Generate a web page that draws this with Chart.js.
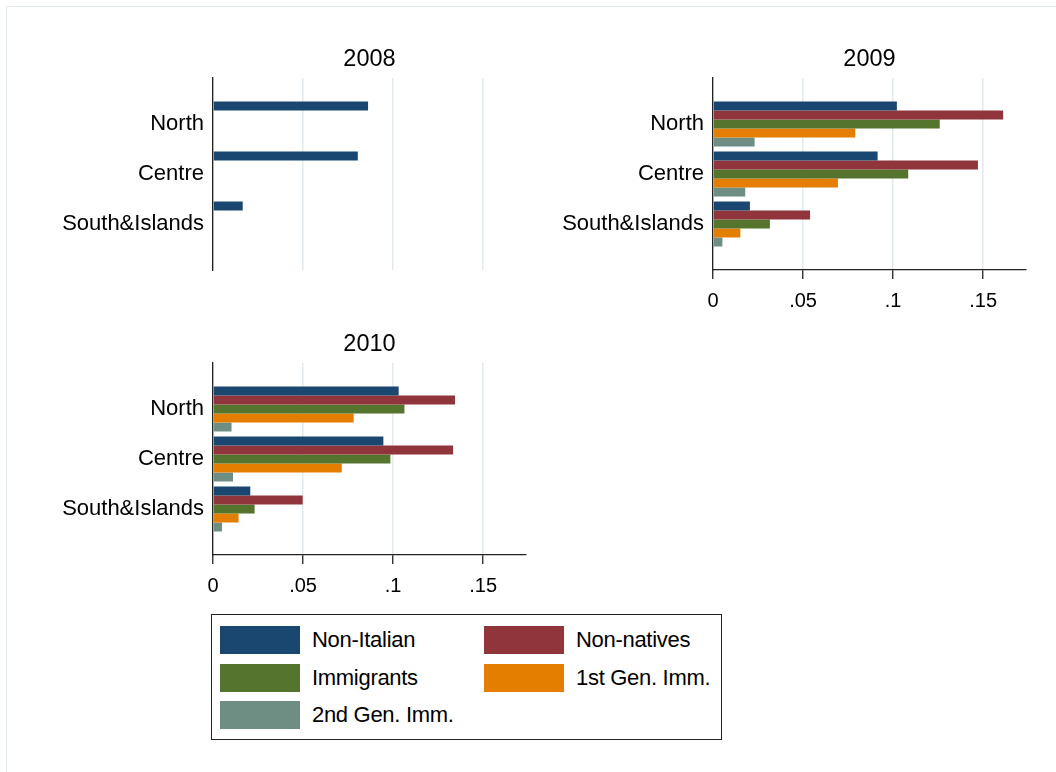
<!DOCTYPE html>
<html>
<head>
<meta charset="utf-8">
<title>Shares by area and year</title>
<script src="https://cdn.jsdelivr.net/npm/chart.js@4.4.1/dist/chart.umd.min.js"></script>
<style>
  html, body { margin: 0; padding: 0; background: #fff; }
  body {
    width: 1056px; height: 772px; position: relative; overflow: hidden;
    font-family: 'Liberation Sans', Arial, sans-serif;
  }
  .frame {
    position: absolute; left: 6px; top: 6px; width: 1200px; height: 900px;
    border-top: 1px solid #e3eaea; border-left: 1px solid #e3eaea;
  }
  canvas { position: absolute; }
  #legend {
    position: absolute; left: 211px; top: 614px; width: 511px; height: 126px;
    border: 1px solid #222; box-sizing: border-box;
  }
  .item { position: absolute; height: 28px; display: flex; align-items: center; }
  .sw { width: 80px; height: 28px; flex: none; }
  .lbl { margin-left: 12px; font-size: 22px; letter-spacing: -0.3px; color: #000; white-space: nowrap; }
</style>
</head>
<body>
<div class="frame"></div>
<canvas id="p2008" width="553" height="256" style="left:0px;top:38px"></canvas>
<canvas id="p2009" width="553" height="273" style="left:500px;top:38px"></canvas>
<canvas id="p2010" width="553" height="273" style="left:0px;top:323px"></canvas>
<div id="legend"></div>

<script>
// Areas (one bar group each) and panel years
const categories = ['North', 'Centre', 'South&Islands'];
const years = ['2008', '2009', '2010'];

// Values per year (rows: 2008, 2009, 2010), columns follow `categories`
const nonItalian = [
  [0.0861, 0.0804, 0.0165],
  [0.1021, 0.0914, 0.0205],
  [0.1031, 0.0946, 0.0207]
];
const nonNatives = [
  [null, null, null],
  [0.1611, 0.1471, 0.0539],
  [0.1344, 0.1333, 0.0498]
];
const immigrants = [
  [null, null, null],
  [0.1259, 0.1084, 0.0316],
  [0.1063, 0.0985, 0.0231]
];
const firstGen = [
  [null, null, null],
  [0.0790, 0.0694, 0.0152],
  [0.0781, 0.0715, 0.0142]
];
const secondGen = [
  [null, null, null],
  [0.0231, 0.0179, 0.0052],
  [0.0103, 0.0111, 0.0050]
];

const seriesNames = ['Non-Italian', 'Non-natives', 'Immigrants', '1st Gen. Imm.', '2nd Gen. Imm.'];
const seriesColors = ['#1a476f', '#90353b', '#55752f', '#e37e00', '#6e8e84'];
const seriesValues = [nonItalian, nonNatives, immigrants, firstGen, secondGen];

// Value axis
const xTicks = [0, 0.05, 0.1, 0.15];
const xMax = 0.1738;

const FONT = "'Liberation Sans', Arial, sans-serif";
const AXIS = '#222';

function tickText(v) {
  return v === 0 ? '0' : String(v).replace(/^0/, '');
}

function makePanel(canvasId, yearIdx, showAxis) {
  const datasets = seriesValues.map((vals, s) => ({
    label: seriesNames[s],
    backgroundColor: seriesColors[s],
    borderWidth: 0,
    barPercentage: 1,
    categoryPercentage: 0.9,
    data: vals[yearIdx].map((v, i) => ({ x: v, y: i }))
  }));

  return new Chart(document.getElementById(canvasId), {
    type: 'bar',
    data: { datasets },
    options: {
      indexAxis: 'y',
      responsive: false,
      animation: false,
      events: [],
      layout: { padding: { left: 0, right: 27, top: 0, bottom: 0 } },
      plugins: {
        legend: { display: false },
        tooltip: { enabled: false },
        title: {
          display: true,
          text: years[yearIdx],
          fullSize: false,
          color: '#000',
          font: { family: FONT, size: 23.5, weight: 'normal' },
          padding: { top: 7.3, bottom: 4.5 }
        }
      },
      scales: {
        x: {
          type: 'linear',
          position: 'bottom',
          min: 0,
          max: xMax,
          afterBuildTicks: (scale) => { scale.ticks = xTicks.map(v => ({ value: v })); },
          afterFit: (scale) => { scale.height = showAxis ? 41 : 24; },
          grid: {
            color: '#e2eaed',
            lineWidth: 1.5,
            drawTicks: showAxis,
            tickLength: 9,
            tickColor: AXIS,
            tickWidth: 1.3
          },
          border: { display: showAxis, color: AXIS, width: 1.3 },
          ticks: {
            display: showAxis,
            padding: 10,
            color: '#000',
            maxRotation: 0,
            autoSkip: false,
            font: { family: FONT, size: 20 },
            callback: (v) => tickText(v)
          }
        },
        y: {
          type: 'linear',
          position: 'left',
          reverse: true,
          offset: false,
          min: -0.92,
          max: 2.92,
          afterBuildTicks: (scale) => { scale.ticks = categories.map((c, i) => ({ value: i })); },
          afterFit: (scale) => { scale.width = 213; },
          grid: { display: false, drawTicks: false, tickLength: 0, offset: false },
          border: { display: true, color: AXIS, width: 1.3 },
          ticks: {
            color: '#000',
            padding: 9,
            autoSkip: false,
            font: { family: FONT, size: 22 },
            callback: (v) => categories[v]
          }
        }
      }
    }
  });
}

makePanel('p2008', 0, false);
makePanel('p2009', 1, true);
makePanel('p2010', 2, true);

// Legend: two columns, filled row by row
const legendEl = document.getElementById('legend');
const colLeft = [8, 272];
const rowTop = [11, 48.5, 86];
seriesNames.forEach((name, s) => {
  const item = document.createElement('div');
  item.className = 'item';
  item.style.left = colLeft[s % 2] + 'px';
  item.style.top = rowTop[Math.floor(s / 2)] + 'px';
  const sw = document.createElement('div');
  sw.className = 'sw';
  sw.style.background = seriesColors[s];
  const lbl = document.createElement('span');
  lbl.className = 'lbl';
  lbl.textContent = name;
  item.appendChild(sw);
  item.appendChild(lbl);
  legendEl.appendChild(item);
});
</script>
</body>
</html>
